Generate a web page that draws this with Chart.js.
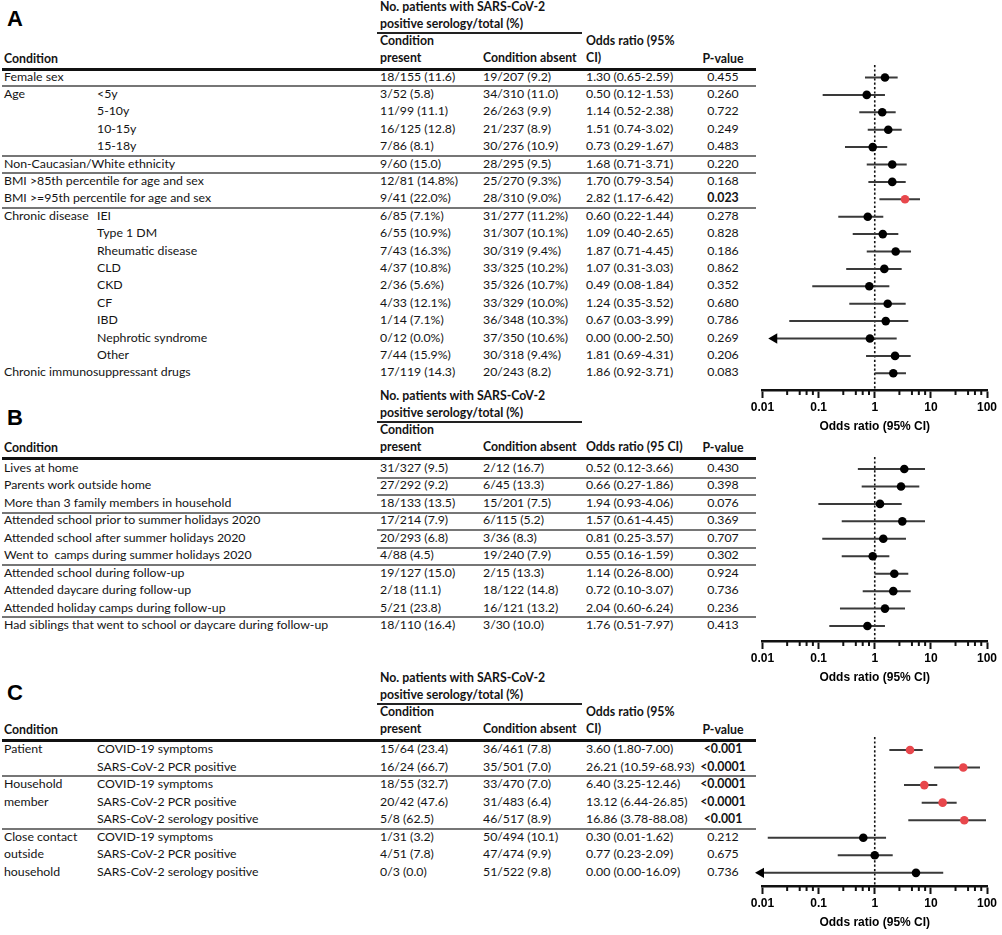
<!DOCTYPE html>
<html>
<head>
<meta charset="utf-8">
<title>Forest plots</title>
<script src="https://cdn.jsdelivr.net/npm/chart.js"></script>
<style>
  html, body { margin: 0; padding: 0; background: #fff; }
  body { width: 1002px; height: 935px; position: relative; overflow: hidden;
         font-family: Lato, 'Noto Sans', sans-serif; font-size: 12.3px; color: #141414; }
  .t { position: absolute; white-space: pre; line-height: 16px; height: 16px; }
  .b { font-weight: bold; }
  .rule { position: absolute; height: 2px; background: #767676; }
  .thick { position: absolute; height: 3px; background: #111; }
  .ul { position: absolute; height: 1.5px; background: #222; }
  .letter { position: absolute; font-family: 'Liberation Sans', Arial, sans-serif; font-weight: bold;
            font-size: 22px; line-height: 24px; color: #000; }
  canvas { position: absolute; }
</style>
</head>
<body>
<div id="page"></div>
<canvas id="chartA" width="262" height="385" style="left:740px;top:55px"></canvas>
<canvas id="chartB" width="262" height="244" style="left:740px;top:447px"></canvas>
<canvas id="chartC" width="262" height="209" style="left:740px;top:727px"></canvas>
<script>
// ---- Panel A: patient characteristics ----
const aCond = ['Female sex', 'Age', '', '', '', 'Non-Caucasian/White ethnicity',
  'BMI >85th percentile for age and sex', 'BMI >=95th percentile for age and sex',
  'Chronic disease', '', '', '', '', '', '', '', '', 'Chronic immunosuppressant drugs'];
const aSub = ['', '<5y', '5-10y', '10-15y', '15-18y', '', '', '', 'IEI', 'Type 1 DM',
  'Rheumatic disease', 'CLD', 'CKD', 'CF', 'IBD', 'Nephrotic syndrome', 'Other', ''];
const aPresent = ['18/155 (11.6)', '3/52 (5.8)', '11/99 (11.1)', '16/125 (12.8)', '7/86 (8.1)',
  '9/60 (15.0)', '12/81 (14.8%)', '9/41 (22.0%)', '6/85 (7.1%)', '6/55 (10.9%)', '7/43 (16.3%)',
  '4/37 (10.8%)', '2/36 (5.6%)', '4/33 (12.1%)', '1/14 (7.1%)', '0/12 (0.0%)', '7/44 (15.9%)',
  '17/119 (14.3)'];
const aAbsent = ['19/207 (9.2)', '34/310 (11.0)', '26/263 (9.9)', '21/237 (8.9)', '30/276 (10.9)',
  '28/295 (9.5)', '25/270 (9.3%)', '28/310 (9.0%)', '31/277 (11.2%)', '31/307 (10.1%)',
  '30/319 (9.4%)', '33/325 (10.2%)', '35/326 (10.7%)', '33/329 (10.0%)', '36/348 (10.3%)',
  '37/350 (10.6%)', '30/318 (9.4%)', '20/243 (8.2)'];
const aOrText = ['1.30 (0.65-2.59)', '0.50 (0.12-1.53)', '1.14 (0.52-2.38)', '1.51 (0.74-3.02)',
  '0.73 (0.29-1.67)', '1.68 (0.71-3.71)', '1.70 (0.79-3.54)', '2.82 (1.17-6.42)',
  '0.60 (0.22-1.44)', '1.09 (0.40-2.65)', '1.87 (0.71-4.45)', '1.07 (0.31-3.03)',
  '0.49 (0.08-1.84)', '1.24 (0.35-3.52)', '0.67 (0.03-3.99)', '0.00 (0.00-2.50)',
  '1.81 (0.69-4.31)', '1.86 (0.92-3.71)'];
const aP = ['0.455', '0.260', '0.722', '0.249', '0.483', '0.220', '0.168', '0.023', '0.278',
  '0.828', '0.186', '0.862', '0.352', '0.680', '0.786', '0.269', '0.206', '0.083'];
const aSig = [0, 0, 0, 0, 0, 0, 0, 1, 0, 0, 0, 0, 0, 0, 0, 0, 0, 0];
// plotted markers
const aOR = [1.52, 0.72, 1.36, 1.74, 0.92, 2.05, 2.05, 3.46, 0.75, 1.39, 2.36, 1.48, 0.80, 1.70, 1.57, 0.82, 2.30, 2.14];
const aLo = [0.67, 0.118, 0.53, 0.75, 0.295, 0.72, 0.77, 1.21, 0.224, 0.405, 0.72, 0.31, 0.077, 0.352, 0.030, 0.0162, 0.70, 0.99];
const aHi = [2.56, 1.52, 2.36, 3.02, 1.67, 3.71, 3.56, 6.40, 1.42, 2.63, 4.43, 3.02, 1.82, 3.56, 3.96, 2.46, 4.37, 3.60];
const aArrow = [0, 0, 0, 0, 0, 0, 0, 0, 0, 0, 0, 0, 0, 0, 0, 1, 0, 0];
const aRules = [0, 4, 5, 7];

// ---- Panel B: exposures ----
const bCond = ['Lives at home', 'Parents work outside home', 'More than 3 family members in household',
  'Attended school prior to summer holidays 2020', 'Attended school after summer holidays 2020',
  'Went to  camps during summer holidays 2020', 'Attended school during follow-up',
  'Attended daycare during follow-up', 'Attended holiday camps during follow-up',
  'Had siblings that went to school or daycare during follow-up'];
const bPresent = ['31/327 (9.5)', '27/292 (9.2)', '18/133 (13.5)', '17/214 (7.9)', '20/293 (6.8)',
  '4/88 (4.5)', '19/127 (15.0)', '2/18 (11.1)', '5/21 (23.8)', '18/110 (16.4)'];
const bAbsent = ['2/12 (16.7)', '6/45 (13.3)', '15/201 (7.5)', '6/115 (5.2)', '3/36 (8.3)',
  '19/240 (7.9)', '2/15 (13.3)', '18/122 (14.8)', '16/121 (13.2)', '3/30 (10.0)'];
const bOrText = ['0.52 (0.12-3.66)', '0.66 (0.27-1.86)', '1.94 (0.93-4.06)', '1.57 (0.61-4.45)',
  '0.81 (0.25-3.57)', '0.55 (0.16-1.59)', '1.14 (0.26-8.00)', '0.72 (0.10-3.07)',
  '2.04 (0.60-6.24)', '1.76 (0.51-7.97)'];
const bP = ['0.430', '0.398', '0.076', '0.369', '0.707', '0.302', '0.924', '0.736', '0.236', '0.413'];
const bSig = [0, 0, 0, 0, 0, 0, 0, 0, 0, 0];
const bOR = [3.36, 2.94, 1.24, 3.10, 1.42, 0.92, 2.23, 2.14, 1.52, 0.74];
const bLo = [0.50, 0.585, 0.099, 0.258, 0.116, 0.258, 0.99, 0.61, 0.24, 0.155];
const bHi = [7.86, 6.22, 3.02, 7.86, 3.60, 1.82, 3.96, 4.37, 3.46, 1.52];
const bArrow = [0, 0, 0, 0, 0, 0, 0, 0, 0, 0];
const bRules = [2, 5, 8];
const bShortRules = [0, 1, 3, 4];

// ---- Panel C: contacts ----
const cGroup = ['Patient', '', 'Household', 'member', '', 'Close contact', 'outside', 'household'];
const cSub = ['COVID-19 symptoms', 'SARS-CoV-2 PCR positive', 'COVID-19 symptoms', 'SARS-CoV-2 PCR positive',
  'SARS-CoV-2 serology positive', 'COVID-19 symptoms', 'SARS-CoV-2 PCR positive', 'SARS-CoV-2 serology positive'];
const cPresent = ['15/64 (23.4)', '16/24 (66.7)', '18/55 (32.7)', '20/42 (47.6)', '5/8 (62.5)',
  '1/31 (3.2)', '4/51 (7.8)', '0/3 (0.0)'];
const cAbsent = ['36/461 (7.8)', '35/501 (7.0)', '33/470 (7.0)', '31/483 (6.4)', '46/517 (8.9)',
  '50/494 (10.1)', '47/474 (9.9)', '51/522 (9.8)'];
const cOrText = ['3.60 (1.80-7.00)', '26.21 (10.59-68.93)', '6.40 (3.25-12.46)', '13.12 (6.44-26.85)',
  '16.86 (3.78-88.08)', '0.30 (0.01-1.62)', '0.77 (0.23-2.09)', '0.00 (0.00-16.09)'];
const cP = ['<0.001', '<0.0001', '<0.0001', '<0.0001', '<0.001', '0.212', '0.675', '0.736'];
const cSig = [1, 1, 1, 1, 1, 0, 0, 0];
const cOR = [4.25, 37.8, 7.64, 16.2, 39.4, 0.625, 1.0, 5.43];
const cLo = [1.82, 11.4, 3.32, 6.86, 3.96, 0.0124, 0.219, 0.0094];
const cHi = [7.15, 75, 13.0, 28.8, 96, 1.59, 2.09, 16.6];
const cArrow = [0, 0, 0, 0, 0, 0, 0, 1];
const cRules = [1, 4];

// axis ticks
const majorTicks = [0.01, 0.1, 1, 10, 100];
const minorSteps = [2.75, 4.6, 6.1, 7.9];
const axisTitle = 'Odds ratio (95% CI)';

// ---- table drawing ----
const page = document.getElementById('page');
const X_LEFT = 4, X_SUB = 97, X_PRES = 380, X_ABS = 483, X_OR = 586, X_P = 723;
const LINE_L = 2, LINE_R = 756;

function put(x, y, s, bold) {
  const d = document.createElement('div');
  d.className = 't' + (bold ? ' b' : '');
  d.textContent = s;
  d.style.left = x + 'px';
  d.style.top = (y - 9) + 'px';
  page.appendChild(d);
  return d;
}
function putCenter(cx, y, s, bold) {
  const d = put(cx - 45, y, s, bold);
  d.style.width = '90px';
  d.style.textAlign = 'center';
}
function hline(x1, x2, y, cls) {
  const d = document.createElement('div');
  d.className = cls;
  d.style.left = x1 + 'px';
  d.style.width = (x2 - x1) + 'px';
  d.style.top = (y - 1) + 'px';
  page.appendChild(d);
}
function letter(s, y) {
  const d = document.createElement('div');
  d.className = 'letter';
  d.textContent = s;
  d.style.left = '7px';
  d.style.top = (y - 12) + 'px';
  page.appendChild(d);
}
function header(base, orLines) {
  put(X_PRES, base, 'No. patients with SARS-CoV-2', true);
  put(X_PRES, base + 17, 'positive serology/total (%)', true);
  hline(377, 582, base + 25, 'ul');
  put(X_PRES, base + 34, 'Condition', true);
  put(X_PRES, base + 51, 'present', true);
  put(X_LEFT, base + 52, 'Condition', true);
  put(X_ABS, base + 51, 'Condition absent', true);
  if (orLines.length === 2) {
    put(X_OR, base + 34, orLines[0], true);
    put(X_OR, base + 51, orLines[1], true);
  } else {
    put(X_OR, base + 51, orLines[0], true);
  }
  putCenter(X_P, base + 52, 'P-value', true);
  hline(LINE_L, LINE_R, base + 61, 'thick');
}
function rows(y0, step, cols) {
  const n = cols.present.length;
  for (let i = 0; i < n; i++) {
    const y = y0 + i * step;
    if (cols.left[i]) put(X_LEFT, y, cols.left[i]);
    if (cols.sub && cols.sub[i]) put(X_SUB, y, cols.sub[i]);
    put(X_PRES, y, cols.present[i]);
    put(X_ABS, y, cols.absent[i]);
    put(X_OR, y, cols.or[i]);
    putCenter(X_P, y, cols.p[i], cols.sig[i]);
  }
  (cols.rules || []).forEach(i => hline(LINE_L, LINE_R, y0 + (i + 0.5) * step, 'rule'));
  (cols.shortRules || []).forEach(i => hline(377, LINE_R, y0 + (i + 0.5) * step, 'rule'));
}

const A_Y0 = 77.5, A_STEP = 17.4;
const B_Y0 = 469, B_STEP = 17.45;
const C_Y0 = 750, C_STEP = 17.55;

letter('A', 19);
header(8, ['Odds ratio (95%', 'CI)']);
rows(A_Y0, A_STEP, { left: aCond, sub: aSub, present: aPresent, absent: aAbsent, or: aOrText,
  p: aP, sig: aSig, rules: aRules });

letter('B', 418);
header(397, ['Odds ratio (95 CI)']);
rows(B_Y0, B_STEP, { left: bCond, present: bPresent, absent: bAbsent, or: bOrText,
  p: bP, sig: bSig, rules: bRules, shortRules: bShortRules });

letter('C', 693);
header(679, ['Odds ratio (95%', 'CI)']);
rows(C_Y0, C_STEP, { left: cGroup, sub: cSub, present: cPresent, absent: cAbsent, or: cOrText,
  p: cP, sig: cSig, rules: cRules });

// ---- forest plots ----
const refLine = {
  id: 'refLine',
  beforeDatasetsDraw(chart) {
    const { ctx, chartArea, scales } = chart;
    const x = scales.x.getPixelForValue(1);
    ctx.save();
    ctx.strokeStyle = '#111';
    ctx.lineWidth = 1.6;
    ctx.setLineDash([2.2, 2.2]);
    ctx.beginPath();
    ctx.moveTo(x, chartArea.top);
    ctx.lineTo(x, chartArea.bottom);
    ctx.stroke();
    ctx.restore();
  },
  afterDraw(chart) {
    // minor log ticks
    const { ctx, chartArea, scales } = chart;
    ctx.save();
    ctx.strokeStyle = '#111';
    ctx.lineWidth = 2;
    majorTicks.slice(0, -1).forEach(d => {
      minorSteps.forEach(m => {
        const x = scales.x.getPixelForValue(d * m);
        ctx.beginPath();
        ctx.moveTo(x, chartArea.bottom);
        ctx.lineTo(x, chartArea.bottom + 5);
        ctx.stroke();
      });
    });
    ctx.restore();
  }
};

function forest(id, or, lo, hi, sig, arrow, yMin, yMax) {
  const whisker = [];
  lo.forEach((v, i) => {
    whisker.push({ x: v, y: i }, { x: hi[i], y: i }, { x: hi[i], y: null });
  });
  const points = or.map((v, i) => ({ x: v, y: i }));
  const arrows = [];
  arrow.forEach((f, i) => { if (f) arrows.push({ x: lo[i], y: i }); });

  new Chart(document.getElementById(id), {
    type: 'scatter',
    data: {
      datasets: [
        {
          data: points,
          pointRadius: 4.3,
          pointBorderWidth: 0,
          pointBackgroundColor: points.map((p, i) => sig[i] ? '#e8474c' : '#000'),
          clip: false
        },
        {
          data: arrows,
          pointStyle: 'triangle',
          rotation: -90,
          pointRadius: 6,
          pointBorderWidth: 0,
          pointBackgroundColor: '#000',
          clip: false
        },
        {
          type: 'line',
          data: whisker,
          borderColor: '#3a3a3a',
          borderWidth: 2,
          pointRadius: 0,
          spanGaps: false,
          clip: false
        }
      ]
    },
    options: {
      responsive: false,
      animation: false,
      events: [],
      layout: { padding: { left: 22.5, right: 15, top: 10, bottom: 0 } },
      plugins: { legend: { display: false }, tooltip: { enabled: false } },
      scales: {
        x: {
          type: 'logarithmic',
          position: 'bottom',
          min: 0.01,
          max: 100,
          border: { display: true, color: '#111', width: 2.5 },
          grid: { display: true, drawOnChartArea: false, drawTicks: true, tickLength: 8,
                  tickWidth: 2, tickColor: '#111' },
          afterBuildTicks: scale => { scale.ticks = majorTicks.map(v => ({ value: v })); },
          afterFit: scale => { scale.height = 50; },
          ticks: {
            autoSkip: false,
            maxRotation: 0,
            padding: 2,
            color: '#000',
            font: { family: "'Liberation Sans', Arial, sans-serif", weight: 'bold', size: 12 },
            callback: v => String(v)
          },
          title: {
            display: true,
            text: axisTitle,
            color: '#000',
            padding: { top: 0, bottom: 6 },
            font: { family: "'Liberation Sans', Arial, sans-serif", weight: 'bold', size: 12 }
          }
        },
        y: {
          type: 'linear',
          reverse: true,
          min: yMin,
          max: yMax,
          display: false
        }
      }
    },
    plugins: [refLine]
  });
}

// chart areas: A 65..390, B 457..641, C 737..886 (page px)
forest('chartA', aOR, aLo, aHi, aSig, aArrow, -(A_Y0 - 65) / A_STEP, (390 - A_Y0) / A_STEP);
forest('chartB', bOR, bLo, bHi, bSig, bArrow, -(B_Y0 - 457) / B_STEP, (641 - B_Y0) / B_STEP);
forest('chartC', cOR, cLo, cHi, cSig, cArrow, -(C_Y0 - 737) / C_STEP, (886 - C_Y0) / C_STEP);
</script>
</body>
</html>
